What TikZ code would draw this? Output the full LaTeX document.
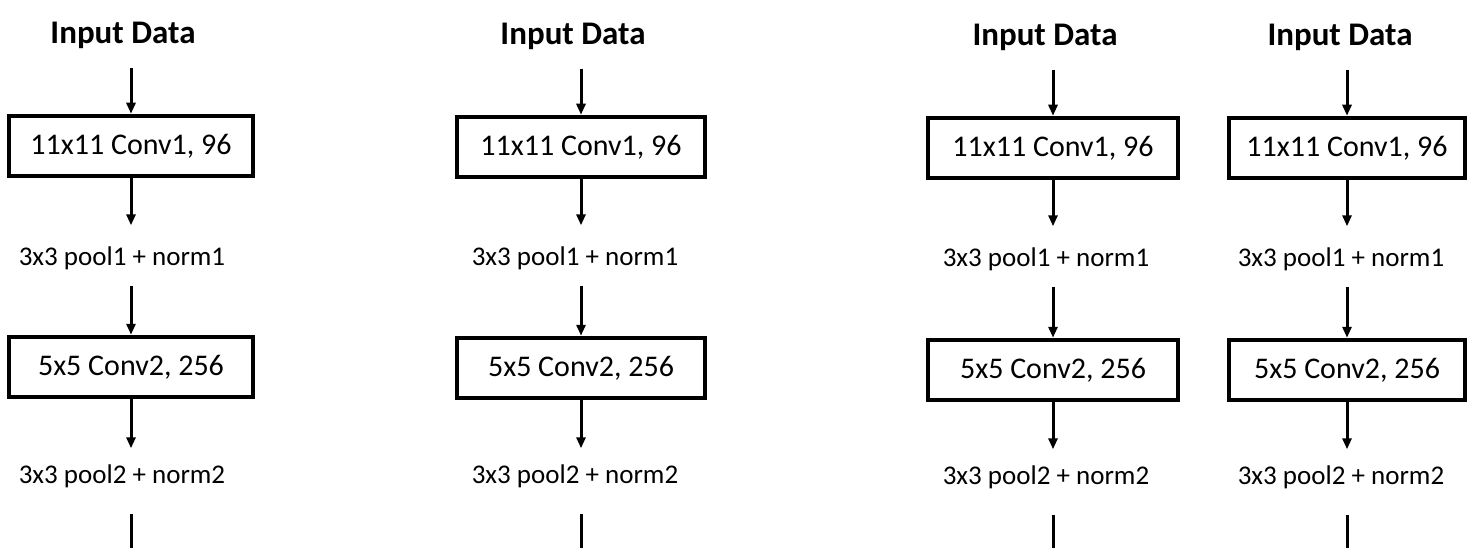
\documentclass[tikz,border=0pt]{standalone}
\usepackage{fontspec}
\setmainfont{Carlito}
\usetikzlibrary{arrows.meta}
\tikzset{
  layerbox/.style={draw, line width=4.5pt, minimum height=60pt, inner sep=0pt, font=\fontsize{30}{32}\selectfont},
  pooltxt/.style={inner sep=0pt, text height=19pt, text depth=6pt, font=\fontsize{27}{29}\selectfont},
  inputtxt/.style={inner sep=0pt, text height=24pt, text depth=7pt, font=\bfseries\fontsize{33}{35}\selectfont},
  arr/.style={line width=3pt, -{Triangle[length=11pt,width=9pt]}},
  plainline/.style={line width=3pt}
}
\begin{document}
\begin{tikzpicture}[x=1pt,y=-1pt]
\useasboundingbox[fill=white] (0,0) rectangle (1479,548);
% column 1
\node[inputtxt] (in1) at (123,35) {Input Data};
\node[layerbox, minimum width=244pt] (ca1) at (131,146) {11x11 Conv1, 96};
\node[pooltxt] (pa1) at (122,259) {3x3 pool1 + norm1};
\node[layerbox, minimum width=244pt] (cb1) at (131,367) {5x5 Conv2, 256};
\node[pooltxt] (pb1) at (122,477) {3x3 pool2 + norm2};
\coordinate (e1) at (131,548);
% column 2
\node[inputtxt] (in2) at (573,36) {Input Data};
\node[layerbox, minimum width=248pt] (ca2) at (581,147) {11x11 Conv1, 96};
\node[pooltxt] (pa2) at (575,259) {3x3 pool1 + norm1};
\node[layerbox, minimum width=248pt] (cb2) at (581,368) {5x5 Conv2, 256};
\node[pooltxt] (pb2) at (575,477) {3x3 pool2 + norm2};
\coordinate (e2) at (581,548);
% column 3
\node[inputtxt] (in3) at (1045,37) {Input Data};
\node[layerbox, minimum width=250pt] (ca3) at (1053,148) {11x11 Conv1, 96};
\node[pooltxt] (pa3) at (1046,260) {3x3 pool1 + norm1};
\node[layerbox, minimum width=250pt] (cb3) at (1053,370) {5x5 Conv2, 256};
\node[pooltxt] (pb3) at (1046,478) {3x3 pool2 + norm2};
\coordinate (e3) at (1053,548);
% column 4
\node[inputtxt] (in4) at (1340,37) {Input Data};
\node[layerbox, minimum width=236pt] (ca4) at (1347,148) {11x11 Conv1, 96};
\node[pooltxt] (pa4) at (1341,260) {3x3 pool1 + norm1};
\node[layerbox, minimum width=236pt] (cb4) at (1347,370) {5x5 Conv2, 256};
\node[pooltxt] (pb4) at (1341,478) {3x3 pool2 + norm2};
\coordinate (e4) at (1347,548);
% connectors
\foreach \i in {1,2,3,4}{
  \draw[arr, shorten <=17pt] (in\i.south -| ca\i.north) -- (ca\i.north);
  \draw[arr, shorten >=21pt] (ca\i.south) -- (pa\i.north -| ca\i.south);
  \draw[arr, shorten <=14pt] (pa\i.south -| cb\i.north) -- (cb\i.north);
  \draw[arr, shorten >=16pt] (cb\i.south) -- (pb\i.north -| cb\i.south);
  \draw[plainline, shorten <=24pt] (pb\i.south -| e\i) -- (e\i);
}
\end{tikzpicture}
\end{document}
